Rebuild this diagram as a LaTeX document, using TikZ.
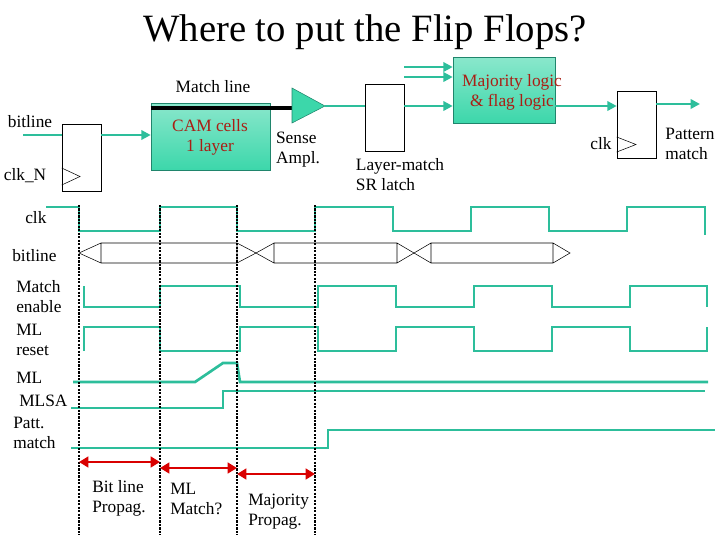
\documentclass[tikz,border=0pt]{standalone}
\usepackage{fontspec}
\setmainfont{Liberation Serif}
\usetikzlibrary{positioning}
\usetikzlibrary{arrows.meta}
\definecolor{wave}{RGB}{45,190,155}
\definecolor{camfill}{RGB}{60,215,170}
\definecolor{darkred}{RGB}{170,30,20}
\tikzset{x=0.75pt, y=-0.75pt,
	wire/.style={draw=wave, line width=2.2pt},
	sig/.style={draw=wave, line width=2pt},
	flow/.style={wire, -{Triangle[length=7pt,width=7pt]}},
	ff/.style={draw, thin, fill=white},
	block/.style={draw=wave!70!black, thin, top color=camfill!60, bottom color=camfill},
	lbl/.style={font=\fontsize{13}{15}\selectfont, align=left, inner sep=0pt},
	redlbl/.style={lbl, text=darkred, align=center},
	marker/.style={densely dotted, line width=1.6pt},
	span/.style={draw=red!85!black, line width=2pt, {Triangle[length=7pt,width=8pt]}-{Triangle[length=7pt,width=8pt]}}
}
\begin{document}
\begin{tikzpicture}
\useasboundingbox (0,0) rectangle (720,540);
\node[font=\fontsize{29}{32}\selectfont] (title) at (365,32) {Where to put the Flip Flops?};

% pipeline blocks
\coordinate (bin) at (23,135);
\node[ff, minimum width=29.25pt, minimum height=50.25pt] (ffa) at (81.5,157.5) {};
\draw (ffa.west |- 0,168) -- (80,176.5) -- (ffa.west |- 0,185);
\node[block, minimum width=89.25pt, minimum height=50.25pt] (cam) at (210.5,136.5) {};
\node[redlbl] (camtxt) at (210,137) {CAM cells\\1 layer};
\draw[line width=2.4pt] (cam.west |- 0,108) -- (292,108);
\draw[draw=wave!70!black, fill=camfill] (292,88) -- (325,106) -- (292,123) -- cycle;
\coordinate (sa) at (325,106);
\node[ff, minimum width=29.25pt, minimum height=50.25pt] (latch) at (384.5,117.5) {};
\node[block, minimum width=76.5pt, minimum height=49.5pt] (maj) at (504,90) {};
\node[redlbl] (majtxt) at (512,92) {Majority logic\\\& flag logic};
\node[ff, minimum width=29.25pt, minimum height=50.25pt] (ffb) at (636.5,124.5) {};
\draw (ffb.west |- 0,137) -- (636,144.5) -- (ffb.west |- 0,152);
\coordinate (pout) at (700,104);
\coordinate (ina) at (404,67);
\coordinate (inb) at (404,77);

\draw[wire] (bin) -- (ffa.west |- bin);
\draw[flow] (ffa.east |- bin) -- (cam.west |- bin);
\draw[wire] (sa) -- (latch.west |- sa);
\draw[flow] (latch.east |- sa) -- (maj.west |- sa);
\draw[flow] (ina) -- (maj.west |- ina);
\draw[flow] (inb) -- (maj.west |- inb);
\draw[flow] (maj.east |- 0,106) -- (ffb.west |- 0,106);
\draw[flow] (ffb.east |- pout) -- (pout);

\node[lbl] (mlbl) at (213,87) {Match line};
\node[lbl] (bl) at (30,122) {bitline};
\node[lbl] (clkn) at (25,176) {clk\_N};
\node[lbl] (sense) at (298,150) {Sense\\Ampl.};
\node[lbl] (srl) at (400,175) {Layer-match\\SR latch};
\node[lbl] (clkb) at (601,144) {clk};
\node[lbl] (patt) at (690,144) {Pattern\\match};

% waveforms
\draw[sig] (46,207) -- (79,207) -- (79,231) -- (160,231) -- (160,207) -- (237,207) -- (237,231) -- (315,231) -- (315,207)
  -- (393,207) -- (393,231) -- (471,231) -- (471,207) -- (549,207) -- (549,231) -- (627,231) -- (627,207) -- (705,207) -- (705,235);
\foreach \a/\b/\c/\d in {79/101/237/256, 256/274/397/414, 414/431/553/570}
  \draw[thin, fill=white] (\a,253) -- (\b,243) -- (\c,243) -- (\d,253) -- (\c,263) -- (\b,263) -- cycle (\b,243) -- (\b,263) (\c,243) -- (\c,263);
\draw[sig] (84,286) -- (84,307) -- (160,307) -- (160,286) -- (240,286) -- (240,307) -- (318,307) -- (318,286) -- (396,286) -- (396,307)
  -- (474,307) -- (474,286) -- (552,286) -- (552,307) -- (630,307) -- (630,286) -- (707,286) -- (707,307);
\draw[sig] (84,351) -- (84,327) -- (160,327) -- (160,351) -- (240,351) -- (240,327) -- (318,327) -- (318,351) -- (396,351) -- (396,327)
  -- (474,327) -- (474,351) -- (552,351) -- (552,327) -- (630,327) -- (630,351) -- (707,351) -- (707,327);
\draw[sig] (73,382) -- (195,382) -- (223,363) -- (237,363) -- (240,382) -- (708,382);
\draw[sig] (71,408) -- (223,408) -- (223,391) -- (705,391);
\draw[sig] (71,448) -- (328,448) -- (328,430) -- (715,430);

\foreach \x in {79,160,237,315}
  \draw[marker] (\x,205) -- (\x,535);

\node[lbl, anchor=west] (wclk) at (25,218) {clk};
\node[lbl, anchor=west] (wbl) at (12,256) {bitline};
\node[lbl, anchor=west] (wme) at (16,297) {Match\\enable};
\node[lbl, anchor=west] (wmr) at (16,340) {ML\\reset};
\node[lbl, anchor=west] (wml) at (16,378) {ML};
\node[lbl, anchor=west] (wsa) at (19,401) {MLSA};
\node[lbl, anchor=west] (wpm) at (13,433) {Patt.\\match};

% phases
\coordinate (p0) at (79,462);
\coordinate (p1) at (160,462);
\coordinate (q0) at (160,468);
\coordinate (q1) at (237,468);
\coordinate (r0) at (237,474);
\coordinate (r1) at (315,474);
\draw[span] (p0) -- (p1);
\draw[span] (q0) -- (q1);
\draw[span] (r0) -- (r1);
\node[lbl, anchor=north west] (ph1) at (92,480) {Bit line\\Propag.};
\node[lbl, anchor=north west] (ph2) at (170,483) {ML\\Match?};
\node[lbl, anchor=north west] (ph3) at (248,494) {Majority\\Propag.};
\end{tikzpicture}
\end{document}
